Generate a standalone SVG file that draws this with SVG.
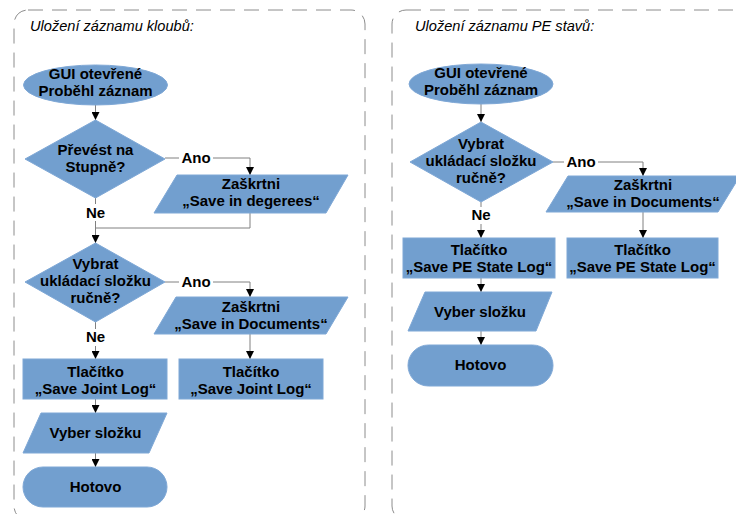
<svg xmlns="http://www.w3.org/2000/svg" width="736" height="514" viewBox="0 0 736 514">
<defs>
<style>
.frame{fill:none;stroke:#8c8c8c;stroke-width:1;stroke-dasharray:15 9}
.shape{fill:#729fcf;stroke:#7fa8d6;stroke-width:1}
.t{font-family:"Liberation Sans",Arial,sans-serif;font-weight:bold;font-size:15px;fill:#000;text-anchor:middle}
.title{font-family:"Liberation Sans",Arial,sans-serif;font-style:italic;font-size:14.6px;fill:#000}
.lbl{font-family:"Liberation Sans",Arial,sans-serif;font-weight:bold;font-size:15px;fill:#000;text-anchor:middle}
.c{fill:none;stroke:#808080;stroke-width:1}
</style>
<marker id="arr" viewBox="0 0 10 10" refX="10" refY="5" markerWidth="8" markerHeight="8" markerUnits="userSpaceOnUse" orient="auto">
<path d="M0,0 L10,5 L0,10 z" fill="#000"/>
</marker>
</defs>
<rect width="736" height="514" fill="#fff"/>

<g id="frame-left">
<rect class="frame" x="14" y="10" width="351" height="510" rx="14"/>
<text class="title" x="30" y="31">Uložení záznamu kloubů:</text>
</g>
<g id="frame-right">
<rect class="frame" x="392" y="10" width="370" height="510" rx="14"/>
<text class="title" x="415" y="31">Uložení záznamu PE stavů:</text>
</g>

<g id="connectors">
<path class="c" d="M95.5,105 V120" marker-end="url(#arr)"/>
<path class="c" d="M165,158 H179 M213,158 H250 V175" marker-end="url(#arr)"/>
<path class="c" d="M95.5,198 V204 M95.5,221 V243" marker-end="url(#arr)"/>
<path class="c" d="M250,213 V228 H95.5"/>
<path class="c" d="M165,282 H179 M213,282 H250 V297" marker-end="url(#arr)"/>
<path class="c" d="M95.5,322 V329 M95.5,346 V359" marker-end="url(#arr)"/>
<path class="c" d="M250,334 V359" marker-end="url(#arr)"/>
<path class="c" d="M95.5,399 V413" marker-end="url(#arr)"/>
<path class="c" d="M95.5,453 V467" marker-end="url(#arr)"/>

<path class="c" d="M481,104 V122" marker-end="url(#arr)"/>
<path class="c" d="M553,162 H564 M598,162 H643 V176" marker-end="url(#arr)"/>
<path class="c" d="M481,202 V207 M481,224 V238" marker-end="url(#arr)"/>
<path class="c" d="M643,212 V238" marker-end="url(#arr)"/>
<path class="c" d="M481,278 V292" marker-end="url(#arr)"/>
<path class="c" d="M481,331 V345" marker-end="url(#arr)"/>

<text class="lbl" x="196" y="163">Ano</text>
<text class="lbl" x="95.5" y="218">Ne</text>
<text class="lbl" x="196" y="287">Ano</text>
<text class="lbl" x="95.5" y="342">Ne</text>
<text class="lbl" x="581" y="167">Ano</text>
<text class="lbl" x="481" y="220">Ne</text>
</g>

<g id="L-start">
<ellipse class="shape" cx="95.5" cy="85" rx="72" ry="20"/>
<text class="t" x="95.5" y="79">GUI otevřené</text>
<text class="t" x="95.5" y="96">Proběhl záznam</text>
</g>
<g id="L-dec1">
<polygon class="shape" points="95.5,120 165,159 95.5,198 25,159"/>
<text class="t" x="95.5" y="155">Převést na</text>
<text class="t" x="95.5" y="172">Stupně?</text>
</g>
<g id="L-deg">
<polygon class="shape" points="177,175 348,175 326,213 154,213"/>
<text class="t" x="251" y="189">Zaškrtni</text>
<text class="t" x="251" y="206">„Save in degerees“</text>
</g>
<g id="L-dec2">
<polygon class="shape" points="95.5,243 165,282 95.5,322 25,282"/>
<text class="t" x="95.5" y="269">Vybrat</text>
<text class="t" x="95.5" y="286">ukládací složku</text>
<text class="t" x="95.5" y="303">ručně?</text>
</g>
<g id="L-doc">
<polygon class="shape" points="176,297 348,297 326,334 154,334"/>
<text class="t" x="251" y="312">Zaškrtni</text>
<text class="t" x="251" y="329">„Save in Documents“</text>
</g>
<g id="L-btn1">
<rect class="shape" x="23" y="359" width="144" height="40"/>
<text class="t" x="95.5" y="377">Tlačítko</text>
<text class="t" x="95.5" y="394">„Save Joint Log“</text>
</g>
<g id="L-btn2">
<rect class="shape" x="179" y="359" width="144" height="40"/>
<text class="t" x="251" y="377">Tlačítko</text>
<text class="t" x="251" y="394">„Save Joint Log“</text>
</g>
<g id="L-folder">
<polygon class="shape" points="41,413 167,413 149,453 23,453"/>
<text class="t" x="95.5" y="438">Vyber složku</text>
</g>
<g id="L-done">
<rect class="shape" x="23" y="467" width="144" height="40" rx="20"/>
<text class="t" x="95.5" y="492">Hotovo</text>
</g>

<g id="R-start">
<ellipse class="shape" cx="481" cy="84" rx="72" ry="20"/>
<text class="t" x="481" y="78">GUI otevřené</text>
<text class="t" x="481" y="95">Proběhl záznam</text>
</g>
<g id="R-dec">
<polygon class="shape" points="481,122 553,162 481,202 410,162"/>
<text class="t" x="481" y="149">Vybrat</text>
<text class="t" x="481" y="166">ukládací složku</text>
<text class="t" x="481" y="183">ručně?</text>
</g>
<g id="R-doc">
<polygon class="shape" points="568,176 740,176 718,212 546,212"/>
<text class="t" x="643" y="190">Zaškrtni</text>
<text class="t" x="643" y="207">„Save in Documents“</text>
</g>
<g id="R-btn1">
<rect class="shape" x="403" y="238" width="152" height="40"/>
<text class="t" x="479" y="255">Tlačítko</text>
<text class="t" x="479" y="272">„Save PE State Log“</text>
</g>
<g id="R-btn2">
<rect class="shape" x="567" y="238" width="151" height="40"/>
<text class="t" x="642.5" y="255">Tlačítko</text>
<text class="t" x="642.5" y="272">„Save PE State Log“</text>
</g>
<g id="R-folder">
<polygon class="shape" points="425,292 552,292 536,331 408,331"/>
<text class="t" x="480" y="317">Vyber složku</text>
</g>
<g id="R-done">
<rect class="shape" x="408" y="345" width="145" height="41" rx="20.5"/>
<text class="t" x="480.5" y="370">Hotovo</text>
</g>
</svg>
